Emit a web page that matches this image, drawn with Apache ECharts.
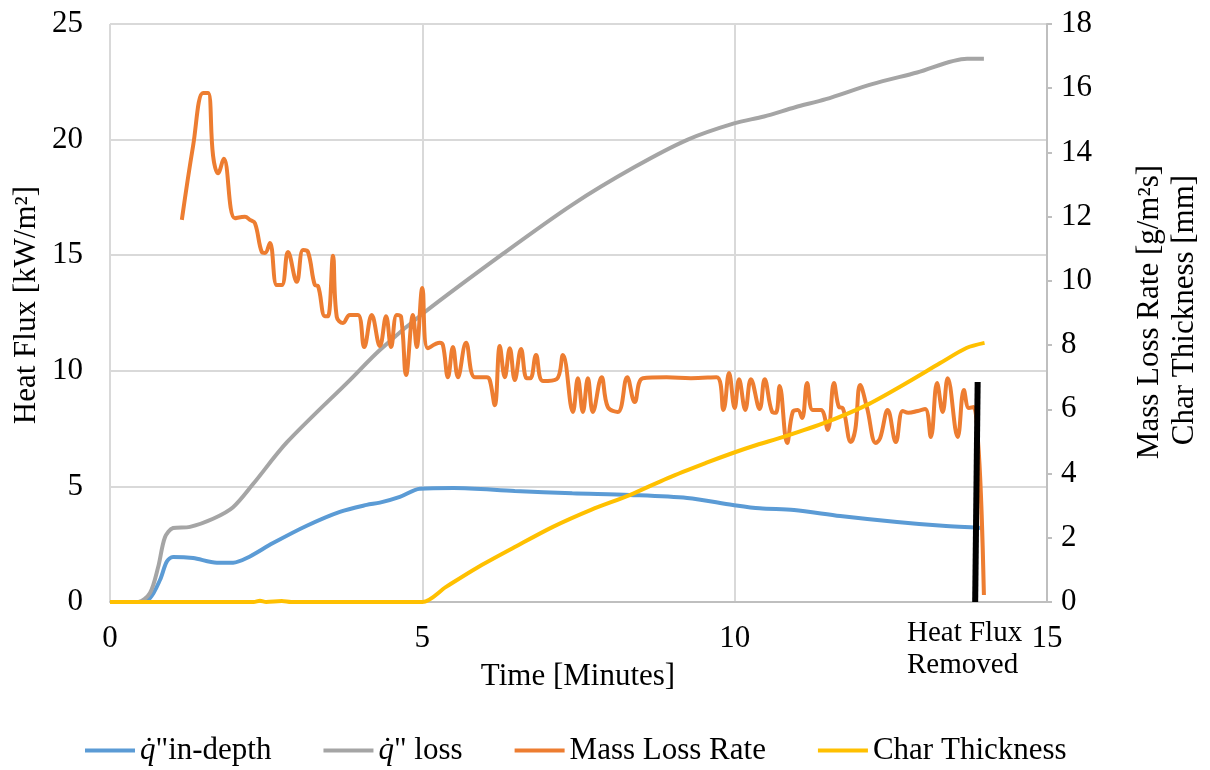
<!DOCTYPE html>
<html>
<head>
<meta charset="utf-8">
<script src="https://cdn.jsdelivr.net/npm/echarts@6/dist/echarts.min.js"></script>
<style>
html,body{margin:0;padding:0;background:#fff;}
#chart{width:1210px;height:770px;}
</style>
</head>
<body>
<div id="chart"></div>
<script>
// ---- Data ----
var seriesNames = ['q_in', 'q_loss', 'Mass Loss Rate', 'Char Thickness'];

var inDepthTime = [0, 0.45, 0.64, 0.8, 0.91, 1.01, 1.33, 1.71, 1.97, 2.19, 2.61, 3.15, 3.68, 4.11, 4.32, 4.64, 4.96, 5.5, 6.48, 7.4, 8.32, 9.24, 9.97, 10.4, 10.95, 11.69, 12.6, 13.33, 13.99];
var inDepthValue = [0, 0, 0.17, 0.95, 1.75, 1.95, 1.9, 1.7, 1.7, 1.9, 2.55, 3.3, 3.9, 4.2, 4.3, 4.55, 4.9, 4.93, 4.8, 4.7, 4.63, 4.5, 4.2, 4.05, 3.98, 3.72, 3.46, 3.3, 3.2];

var lossTime = [0, 0.45, 0.64, 0.77, 0.88, 1.01, 1.28, 1.65, 1.97, 2.29, 2.83, 3.84, 4.32, 5.02, 6.31, 7.41, 8.39, 9.25, 9.99, 10.47, 10.97, 11.46, 12.2, 12.92, 13.72, 13.99];
var lossValue = [0, 0, 0.39, 1.5, 2.8, 3.2, 3.25, 3.6, 4.1, 5.1, 6.9, 9.6, 10.9, 12.5, 15.1, 17.2, 18.8, 20.0, 20.7, 21.0, 21.4, 21.75, 22.4, 22.9, 23.5, 23.5];

var mlrTime = [1.15, 1.33, 1.49, 1.57, 1.65, 1.73, 1.82, 2.0, 2.16, 2.24, 2.32, 2.43, 2.48, 2.56, 2.67, 2.75, 2.85, 2.99, 3.09, 3.17, 3.28, 3.33, 3.44, 3.49, 3.57, 3.63, 3.73, 3.84, 3.97, 4.07, 4.19, 4.32, 4.42, 4.5, 4.59, 4.66, 4.74, 4.85, 4.91, 5.0, 5.09, 5.28, 5.33, 5.41, 5.49, 5.57, 5.7, 5.84, 6.03, 6.08, 6.16, 6.24, 6.32, 6.4, 6.48, 6.58, 6.67, 6.73, 6.82, 6.93, 7.15, 7.25, 7.41, 7.49, 7.57, 7.65, 7.73, 7.87, 7.97, 8.13, 8.28, 8.4, 8.53, 8.91, 9.3, 9.71, 9.82, 9.91, 10.0, 10.07, 10.17, 10.26, 10.4, 10.48, 10.6, 10.66, 10.72, 10.84, 10.93, 11.01, 11.08, 11.16, 11.25, 11.38, 11.49, 11.59, 11.67, 11.73, 11.86, 11.93, 12.01, 12.12, 12.26, 12.33, 12.45, 12.58, 12.69, 12.78, 12.93, 13.05, 13.14, 13.24, 13.33, 13.41, 13.57, 13.67, 13.75, 13.83, 13.99];
var mlrValue = [11.9, 14.2, 15.85, 15.85, 13.9, 13.35, 13.8, 11.95, 12.0, 11.9, 11.8, 10.9, 10.87, 11.18, 9.87, 9.87, 10.9, 9.97, 10.96, 10.9, 9.87, 9.84, 8.9, 8.9, 10.78, 8.88, 8.69, 8.94, 8.94, 7.94, 8.94, 7.97, 8.9, 7.94, 8.94, 8.88, 7.07, 8.94, 7.94, 9.78, 7.9, 8.07, 8.0, 7.0, 7.94, 7.0, 8.07, 7.0, 7.0, 6.91, 6.13, 7.97, 7.0, 7.9, 6.91, 7.88, 6.97, 6.97, 7.69, 6.88, 6.94, 7.69, 5.92, 6.97, 5.92, 6.97, 5.92, 7.0, 6.07, 5.92, 7.0, 6.23, 6.97, 7.0, 6.97, 7.0, 5.98, 7.13, 6.04, 6.94, 5.98, 6.94, 6.01, 6.94, 5.92, 5.89, 6.73, 4.95, 5.92, 5.98, 5.73, 6.82, 5.98, 5.98, 5.36, 6.82, 6.07, 6.04, 4.98, 5.36, 6.76, 6.04, 4.95, 5.11, 5.98, 4.98, 5.95, 5.89, 5.95, 6.01, 5.14, 6.82, 5.92, 6.97, 5.14, 6.6, 6.04, 6.07, 0.22];

var charTime = [0, 2.3, 2.4, 2.5, 2.75, 2.9, 4.0, 5.0, 5.38, 5.87, 6.48, 7.09, 7.7, 8.32, 8.93, 9.54, 9.97, 10.35, 10.78, 11.47, 12.11, 12.75, 13.29, 13.71, 14.0];
var charValue = [0, 0, 0.04, 0, 0.03, 0, 0, 0, 0.47, 1.06, 1.71, 2.34, 2.87, 3.33, 3.86, 4.33, 4.64, 4.89, 5.14, 5.6, 6.13, 6.82, 7.44, 7.91, 8.07];

var removedTime = [13.89, 13.85];
var removedValue = [6.85, 0];

var xTicks = [0, 5, 10, 15];
var leftTicks = [0, 5, 10, 15, 20, 25];
var rightTicks = [0, 2, 4, 6, 8, 10, 12, 14, 16, 18];

function pairs(t, v) { return t.map(function (x, i) { return [x, v[i]]; }); }

var FONT = 'Liberation Serif';
var FS = 31;

var chart = echarts.init(document.getElementById('chart'), null, {renderer: 'canvas'});

var option = {
  backgroundColor: '#ffffff',
  animation: false,
  textStyle: {fontFamily: FONT, color: '#000'},
  grid: {left: 110, right: 163, top: 24, bottom: 168, containLabel: false},
  xAxis: {
    type: 'value',
    min: xTicks[0], max: xTicks[xTicks.length - 1], interval: 5,
    axisLine: {show: true, lineStyle: {color: '#bfbfbf', width: 2}},
    axisTick: {show: false},
    axisLabel: {color: '#000', fontFamily: FONT, fontSize: FS, margin: 21},
    splitLine: {show: true, lineStyle: {color: '#d9d9d9', width: 2}}
  },
  yAxis: [
    {
      type: 'value', position: 'left',
      min: leftTicks[0], max: leftTicks[leftTicks.length - 1], interval: 5,
      axisLine: {show: false}, axisTick: {show: false},
      axisLabel: {color: '#000', fontFamily: FONT, fontSize: FS, margin: 27},
      splitLine: {show: true, lineStyle: {color: '#d9d9d9', width: 2}}
    },
    {
      type: 'value', position: 'right',
      min: rightTicks[0], max: rightTicks[rightTicks.length - 1], interval: 2,
      axisLine: {show: true, lineStyle: {color: '#bfbfbf', width: 2}},
      axisTick: {show: true, inside: false, length: 5, lineStyle: {color: '#bfbfbf', width: 2}},
      axisLabel: {color: '#000', fontFamily: FONT, fontSize: FS, margin: 14},
      splitLine: {show: false}
    }
  ],
  legend: {
    data: seriesNames,
    left: 80, top: 730,
    itemWidth: 50, itemHeight: 4, itemGap: 52,
    icon: 'rect',
    textStyle: {
      fontFamily: FONT, fontSize: FS, color: '#000',
      rich: {
        q: {fontFamily: FONT, fontSize: FS, fontStyle: 'italic', color: '#000'},
        t: {fontFamily: FONT, fontSize: FS, color: '#000'}
      }
    },
    formatter: function (name) {
      if (name === 'q_in') return '{q|q\u0307}{t|"in-depth}';
      if (name === 'q_loss') return '{q|q\u0307}{t|" loss}';
      return name;
    }
  },
  series: [
    {
      name: 'q_in', type: 'line', yAxisIndex: 0, data: pairs(inDepthTime, inDepthValue),
      showSymbol: false, symbol: 'none', smooth: 0.3,
      lineStyle: {color: '#5b9bd5', width: 4}, itemStyle: {color: '#5b9bd5'}
    },
    {
      name: 'q_loss', type: 'line', yAxisIndex: 0, data: pairs(lossTime, lossValue),
      showSymbol: false, symbol: 'none', smooth: 0.3,
      lineStyle: {color: '#a5a5a5', width: 4}, itemStyle: {color: '#a5a5a5'}
    },
    {
      name: 'Mass Loss Rate', type: 'line', yAxisIndex: 1, data: pairs(mlrTime, mlrValue),
      showSymbol: false, symbol: 'none', smooth: 0.4,
      lineStyle: {color: '#ed7d31', width: 4}, itemStyle: {color: '#ed7d31'}
    },
    {
      name: 'Char Thickness', type: 'line', yAxisIndex: 1, data: pairs(charTime, charValue),
      showSymbol: false, symbol: 'none', smooth: 0.3,
      lineStyle: {color: '#ffc000', width: 4}, itemStyle: {color: '#ffc000'}
    },
    {
      name: 'Heat Flux Removed', type: 'line', yAxisIndex: 1, data: pairs(removedTime, removedValue),
      showSymbol: false, symbol: 'none',
      lineStyle: {color: '#000000', width: 6}, itemStyle: {color: '#000'}, z: 5
    }
  ],
  graphic: [
    {type: 'text', x: 27, y: 305, rotation: Math.PI / 2,
      style: {text: 'Heat Flux [kW/m\u00b2]', fontFamily: FONT, fontSize: FS, fill: '#000', align: 'center', verticalAlign: 'middle'}},
    {type: 'text', x: 1150, y: 312, rotation: Math.PI / 2,
      style: {text: 'Mass Loss Rate [g/m\u00b2s]', fontFamily: FONT, fontSize: FS, fill: '#000', align: 'center', verticalAlign: 'middle'}},
    {type: 'text', x: 1185, y: 310, rotation: Math.PI / 2,
      style: {text: 'Char Thickness [mm]', fontFamily: FONT, fontSize: FS, fill: '#000', align: 'center', verticalAlign: 'middle'}},
    {type: 'text', x: 578, y: 677,
      style: {text: 'Time [Minutes]', fontFamily: FONT, fontSize: FS, fill: '#000', align: 'center', verticalAlign: 'middle'}},
    {type: 'text', x: 907, y: 633,
      style: {text: 'Heat Flux', fontFamily: FONT, fontSize: 29, fill: '#000', align: 'left', verticalAlign: 'middle'}},
    {type: 'text', x: 907, y: 665,
      style: {text: 'Removed', fontFamily: FONT, fontSize: 29, fill: '#000', align: 'left', verticalAlign: 'middle'}}
  ]
};
chart.setOption(option);
</script>
</body>
</html>
